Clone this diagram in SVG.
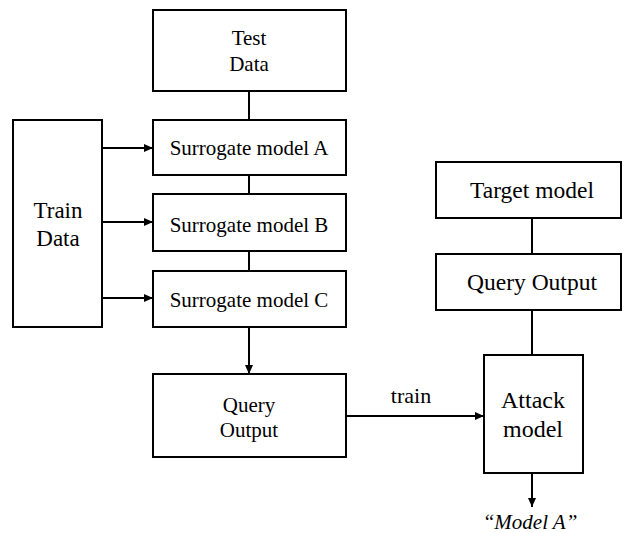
<svg xmlns="http://www.w3.org/2000/svg" width="622" height="533" viewBox="0 0 622 533">
<style>
rect{fill:#fff;stroke:#000;stroke-width:2}
text{font-family:'Liberation Serif','Times New Roman','DejaVu Serif',serif;fill:#000;text-anchor:middle}
.c line{stroke:#000;stroke-width:2}
</style>
<defs>
<marker id="ah" markerWidth="9" markerHeight="9" refX="9" refY="4.5" orient="auto" markerUnits="userSpaceOnUse">
<path d="M0,0.5 L9,4.5 L0,8.5 Z" fill="#000"/>
</marker>
</defs>
<rect x="0" y="0" width="622" height="533" style="stroke:none"/>
<g font-family="Liberation Serif, serif">
<g class="c" id="connectors">
<line x1="249" y1="91" x2="249" y2="120"/>
<line x1="249" y1="175" x2="249" y2="194"/>
<line x1="249" y1="251" x2="249" y2="271"/>
<line x1="249" y1="327" x2="249" y2="374" marker-end="url(#ah)"/>
<line x1="102" y1="148" x2="153" y2="148" marker-end="url(#ah)"/>
<line x1="102" y1="222" x2="153" y2="222" marker-end="url(#ah)"/>
<line x1="102" y1="298" x2="153" y2="298" marker-end="url(#ah)"/>
<line x1="346" y1="416" x2="484" y2="416" marker-end="url(#ah)"/>
<line x1="532" y1="218" x2="532" y2="254"/>
<line x1="532" y1="310" x2="532" y2="355"/>
<line x1="532" y1="473" x2="532" y2="507" marker-end="url(#ah)"/>
<text x="411" y="403" font-size="22">train</text>
</g>
<g id="test-data"><rect x="153" y="10" width="193" height="81"/><text x="249" y="45" font-size="21">Test</text><text x="249" y="71" font-size="21">Data</text></g>
<g id="surrogate-a"><rect x="153" y="120" width="193" height="55"/><text x="249" y="155" font-size="21">Surrogate model A</text></g>
<g id="surrogate-b"><rect x="153" y="194" width="193" height="57"/><text x="249" y="232" font-size="21">Surrogate model B</text></g>
<g id="surrogate-c"><rect x="153" y="271" width="193" height="56"/><text x="249" y="307" font-size="21">Surrogate model C</text></g>
<g id="train-data"><rect x="13" y="120" width="89" height="207"/><text x="58" y="218" font-size="23">Train</text><text x="58" y="246" font-size="23">Data</text></g>
<g id="query-output-left"><rect x="153" y="374" width="193" height="83"/><text x="249" y="412" font-size="21">Query</text><text x="249" y="437" font-size="21">Output</text></g>
<g id="attack-model"><rect x="484" y="355" width="99" height="118"/><text x="533" y="408" font-size="24">Attack</text><text x="533" y="437" font-size="24">model</text></g>
<g id="target-model"><rect x="436" y="162" width="185" height="56"/><text x="532" y="198" font-size="23.5">Target model</text></g>
<g id="query-output-right"><rect x="436" y="254" width="185" height="56"/><text x="532" y="290" font-size="23.5">Query Output</text></g>
<g id="result"><text x="530" y="529" font-size="21" font-style="italic">“Model A”</text></g>
</g>
</svg>
